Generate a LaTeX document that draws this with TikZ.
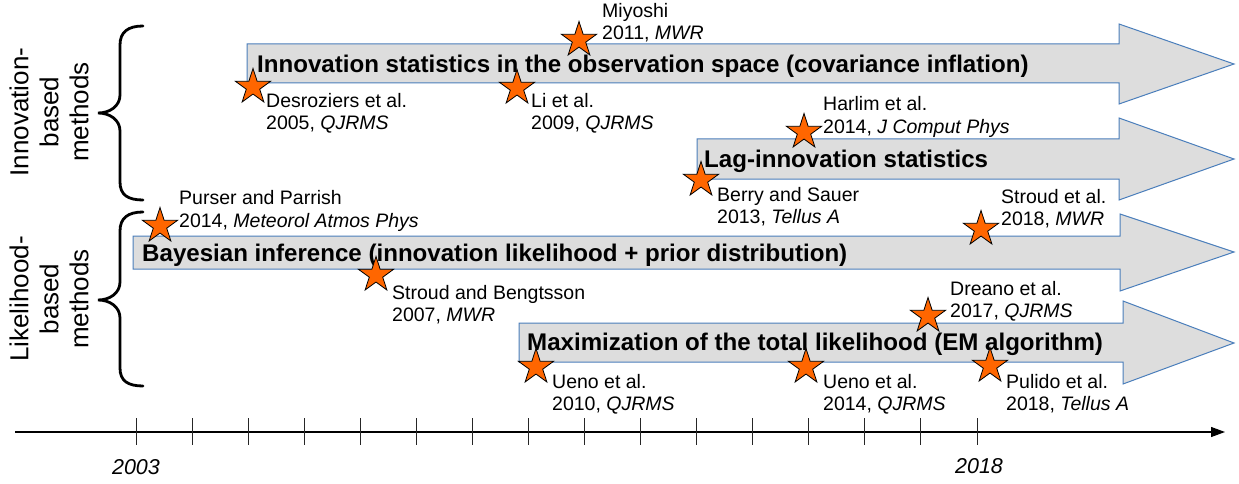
\documentclass[tikz,border=0pt]{standalone}
\usepackage{fontspec}
\setmainfont{Liberation Sans}
\usetikzlibrary{shapes.geometric,arrows.meta}
\definecolor{starfill}{HTML}{FF6600}
\definecolor{arrfill}{HTML}{DDDDDD}
\definecolor{arrline}{HTML}{4A7EBB}
\begin{document}
\begin{tikzpicture}[x=1pt,y=-1pt,
  lab/.style={anchor=base west, inner sep=0pt, font=\fontsize{19.5}{22}\selectfont},
  ttl/.style={anchor=base west, inner sep=0pt, font=\fontsize{24.1}{27}\selectfont\bfseries},
  starnode/.style={star, star points=5, star point ratio=2.618, minimum size=37pt, inner sep=0pt, fill=starfill, draw=black, line width=0.8pt},
  bigarrow/.style={fill=arrfill, draw=arrline, line width=1pt, line join=miter},
  bracepath/.style={line width=2.8pt, line cap=round},
  side/.style={rotate=90, align=center, font=\fontsize{26}{30}\selectfont, inner sep=0pt},
  tickline/.style={line width=1pt, draw=black!85},
  axisline/.style={line width=1.1pt, -{Triangle[length=14pt,width=10pt]}},
  year/.style={font=\fontsize{21.5}{24}\selectfont\itshape, anchor=base, inner sep=0pt}
]
\useasboundingbox (0,0) rectangle (1239,484);

% side labels
\node[side] (innov) at (49,112) {Innovation-\\based\\methods};
\node[side] (likel) at (49,299) {Likelihood-\\based\\methods};

% braces
\draw[bracepath] (143,26) .. controls (128,26) and (120,32) .. (120,45) -- (120,95)
  .. controls (120,106) and (110,113) .. (98,113)
  .. controls (110,113) and (120,120) .. (120,131) -- (120,182)
  .. controls (120,195) and (128,200) .. (143,200);
\draw[bracepath] (143,212) .. controls (128,212) and (120,218) .. (120,231) -- (120,282)
  .. controls (120,293) and (110,300) .. (98,300)
  .. controls (110,300) and (120,307) .. (120,318) -- (120,368)
  .. controls (120,381) and (128,386) .. (143,386);

% big arrows
\draw[bigarrow] (247,44) -- (1119,44) -- (1119,24) -- (1234,64) -- (1119,104) -- (1119,83) -- (247,83) -- cycle;
\draw[bigarrow] (697,139) -- (1119,139) -- (1119,118) -- (1234,159) -- (1119,200) -- (1119,179) -- (697,179) -- cycle;
\draw[bigarrow] (133,236) -- (1120,236) -- (1120,214) -- (1234,252) -- (1120,291) -- (1120,269) -- (133,269) -- cycle;
\draw[bigarrow] (519,323) -- (1123,323) -- (1123,301) -- (1234,343) -- (1123,384) -- (1123,362) -- (519,362) -- cycle;

\node[ttl] (t1) at (257,73) {Innovation statistics in the observation space (covariance inflation)};
\node[ttl] (t2) at (704,167) {Lag-innovation statistics};
\node[ttl] (t3) at (142,261) {Bayesian inference (innovation likelihood + prior distribution)};
\node[ttl] (t4) at (527,350) {Maximization of the total likelihood (EM algorithm)};

% stars
\node[starnode] (sDes) at (253,87) {};
\node[starnode] (sMiy) at (579,40) {};
\node[starnode] (sLi) at (517,88) {};
\node[starnode] (sHar) at (804,132) {};
\node[starnode] (sBer) at (701,180) {};
\node[starnode] (sPur) at (160,226) {};
\node[starnode] (sStB) at (376,275) {};
\node[starnode] (sSt18) at (981,229) {};
\node[starnode] (sDre) at (928,316) {};
\node[starnode] (sUe10) at (536,367) {};
\node[starnode] (sUe14) at (806,367) {};
\node[starnode] (sPul) at (990,366) {};

% labels
\node[lab] (lDesA) at (266,108) {Desroziers et al.};
\node[lab] (lDesB) at (266,130) {2005, \textit{QJRMS}};
\node[lab] (lMiyA) at (602,18) {Miyoshi};
\node[lab] (lMiyB) at (602,40) {2011, \textit{MWR}};
\node[lab] (lLiA) at (531,108) {Li et al.};
\node[lab] (lLiB) at (531,130) {2009, \textit{QJRMS}};
\node[lab] (lHarA) at (823,111) {Harlim et al.};
\node[lab] (lHarB) at (823,133) {2014, \textit{J Comput Phys}};
\node[lab] (lBerA) at (717,201) {Berry and Sauer};
\node[lab] (lBerB) at (717,223) {2013, \textit{Tellus A}};
\node[lab] (lPurA) at (179,204) {Purser and Parrish};
\node[lab] (lPurB) at (179,227) {2014, \textit{Meteorol Atmos Phys}};
\node[lab] (lStBA) at (392,299) {Stroud and Bengtsson};
\node[lab] (lStBB) at (392,321) {2007, \textit{MWR}};
\node[lab] (lSt18A) at (1001,203) {Stroud et al.};
\node[lab] (lSt18B) at (1001,225) {2018, \textit{MWR}};
\node[lab] (lDreA) at (950,295) {Dreano et al.};
\node[lab] (lDreB) at (950,317) {2017, \textit{QJRMS}};
\node[lab] (lUe10A) at (552,388) {Ueno et al.};
\node[lab] (lUe10B) at (552,410) {2010, \textit{QJRMS}};
\node[lab] (lUe14A) at (823,388) {Ueno et al.};
\node[lab] (lUe14B) at (823,410) {2014, \textit{QJRMS}};
\node[lab] (lPulA) at (1006,388) {Pulido et al.};
\node[lab] (lPulB) at (1006,410) {2018, \textit{Tellus A}};

% timeline
\coordinate (axstart) at (15,432);
\coordinate (axend) at (1225,432);
\draw[axisline] (axstart) -- (axend);
\foreach \k in {0,...,15} \draw[tickline] ({136+56.07*\k},418) -- ({136+56.07*\k},445);
\node[year] (y2003) at (136,474) {2003};
\node[year] (y2018) at (979,473) {2018};
\end{tikzpicture}
\end{document}
